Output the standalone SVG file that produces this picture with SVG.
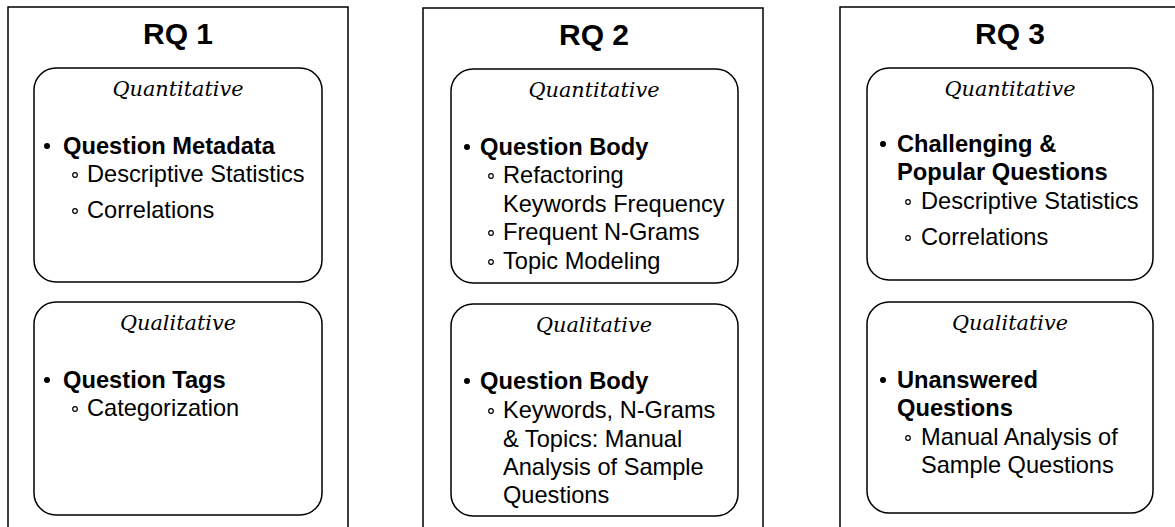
<svg xmlns="http://www.w3.org/2000/svg" width="1175" height="527" viewBox="0 0 1175 527">
<style>
.outer{fill:#fff;stroke:#000;stroke-width:1.5}
.box{fill:#fff;stroke:#000;stroke-width:1.5}
.rq{font-family:"Liberation Sans",Arial,sans-serif;font-weight:bold;font-size:30px;text-anchor:middle;fill:#000}
.hd{font-family:"DejaVu Serif",serif;font-style:italic;font-size:20.8px;text-anchor:middle;fill:#000}
.b{font-family:"Liberation Sans",Arial,sans-serif;font-weight:bold;font-size:23.7px;fill:#000}
.t{font-family:"Liberation Sans",Arial,sans-serif;font-size:23.6px;fill:#000}
.dot{fill:#000}
.ring{fill:none;stroke:#000;stroke-width:1.2}
</style>
<rect width="1175" height="527" fill="#fff"/>
<g id="rq1">
<rect class="outer" x="8" y="7" width="340" height="530"/>
<text class="rq" x="178" y="44">RQ 1</text>
<g id="rq1-quant">
<rect class="box" x="34" y="68" width="288" height="214" rx="22"/>
<text class="hd" x="178" y="96">Quantitative</text>
<circle class="dot" cx="47" cy="146" r="3"/>
<text class="b" x="63" y="154">Question Metadata</text>
<circle class="ring" cx="75" cy="175" r="2.3"/>
<text class="t" x="87" y="182">Descriptive Statistics</text>
<circle class="ring" cx="75" cy="211" r="2.3"/>
<text class="t" x="87" y="218">Correlations</text>
</g>
<g id="rq1-qual">
<rect class="box" x="34" y="302" width="288" height="213" rx="22"/>
<text class="hd" x="178" y="330">Qualitative</text>
<circle class="dot" cx="47" cy="380" r="3"/>
<text class="b" x="63" y="388">Question Tags</text>
<circle class="ring" cx="75" cy="409" r="2.3"/>
<text class="t" x="87" y="416">Categorization</text>
</g>
</g>
<g id="rq2">
<rect class="outer" x="423" y="8" width="340" height="530"/>
<text class="rq" x="594" y="45">RQ 2</text>
<g id="rq2-quant">
<rect class="box" x="451" y="69" width="287" height="214" rx="22"/>
<text class="hd" x="594" y="97">Quantitative</text>
<circle class="dot" cx="467" cy="147" r="3"/>
<text class="b" x="480" y="155">Question Body</text>
<circle class="ring" cx="491" cy="176" r="2.3"/>
<text class="t" x="503" y="183">Refactoring</text>
<text class="t" x="503" y="212">Keywords Frequency</text>
<circle class="ring" cx="491" cy="233" r="2.3"/>
<text class="t" x="503" y="240">Frequent N-Grams</text>
<circle class="ring" cx="491" cy="262" r="2.3"/>
<text class="t" x="503" y="269">Topic Modeling</text>
</g>
<g id="rq2-qual">
<rect class="box" x="451" y="304" width="287" height="212" rx="22"/>
<text class="hd" x="594" y="332">Qualitative</text>
<circle class="dot" cx="467" cy="381" r="3"/>
<text class="b" x="480" y="389">Question Body</text>
<circle class="ring" cx="491" cy="411" r="2.3"/>
<text class="t" x="503" y="418">Keywords, N-Grams</text>
<text class="t" x="503" y="447">&amp; Topics: Manual</text>
<text class="t" x="503" y="475">Analysis of Sample</text>
<text class="t" x="503" y="503">Questions</text>
</g>
</g>
<g id="rq3">
<rect class="outer" x="840" y="7" width="340" height="530"/>
<text class="rq" x="1010" y="44">RQ 3</text>
<g id="rq3-quant">
<rect class="box" x="867" y="68" width="286" height="212" rx="22"/>
<text class="hd" x="1010" y="96">Quantitative</text>
<circle class="dot" cx="883" cy="144" r="3"/>
<text class="b" x="897" y="152">Challenging &amp;</text>
<text class="b" x="897" y="180">Popular Questions</text>
<circle class="ring" cx="908" cy="202" r="2.3"/>
<text class="t" x="921" y="209">Descriptive Statistics</text>
<circle class="ring" cx="908" cy="238" r="2.3"/>
<text class="t" x="921" y="245">Correlations</text>
</g>
<g id="rq3-qual">
<rect class="box" x="867" y="302" width="286" height="211" rx="22"/>
<text class="hd" x="1010" y="330">Qualitative</text>
<circle class="dot" cx="883" cy="380" r="3"/>
<text class="b" x="897" y="388">Unanswered</text>
<text class="b" x="897" y="416">Questions</text>
<circle class="ring" cx="908" cy="438" r="2.3"/>
<text class="t" x="921" y="445">Manual Analysis of</text>
<text class="t" x="921" y="473">Sample Questions</text>
</g>
</g>
<g id="connectors"></g>
</svg>
